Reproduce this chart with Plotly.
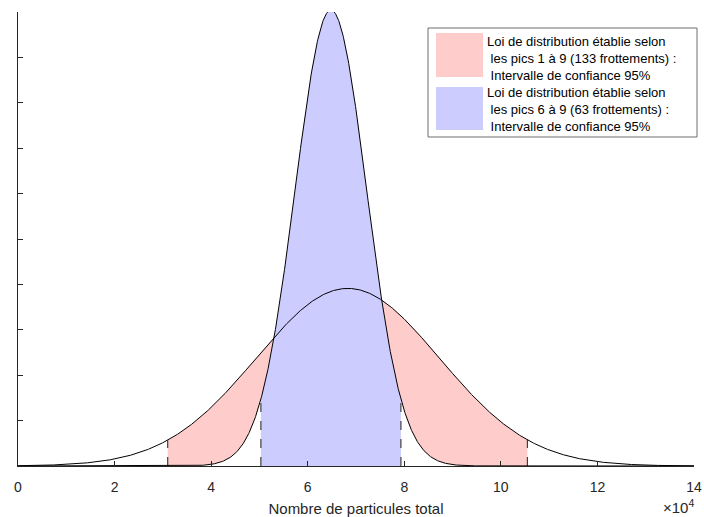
import numpy as np
import plotly.graph_objects as go

# lois normales (unités : nombre de particules)
moyenne_1_9 = 68300
ecart_1_9 = 19000
ic_1_9 = [31000, 105500]

moyenne_6_9 = 64800
ecart_6_9 = 7400
ic_6_9 = [50300, 79300]

x_ticks = [0, 20000, 40000, 60000, 80000, 100000, 120000, 140000]
x_ticklabels = ["0", "2", "4", "6", "8", "10", "12", "14"]
y_max = 5.367e-5

legende_1 = ["Loi de distribution établie selon", " les pics 1 à 9 (133 frottements) :", " Intervalle de confiance 95%"]
legende_2 = ["Loi de distribution établie selon", " les pics 6 à 9 (63 frottements) :", " Intervalle de confiance 95%"]

ROUGE = "#FFCCCC"
BLEU = "#CCCCFF"
AXE = "#262626"


def pdf(x, m, s):
    return np.exp(-0.5 * ((x - m) / s) ** 2) / (s * np.sqrt(2 * np.pi))


x = np.linspace(0, 140000, 1401)
x_r = np.linspace(ic_1_9[0], ic_1_9[1], 600)
x_b = np.linspace(ic_6_9[0], ic_6_9[1], 600)

fig = go.Figure()

# zone rouge sous la grande loi
fig.add_trace(go.Scatter(x=x_r, y=pdf(x_r, moyenne_1_9, ecart_1_9), fill="tozeroy",
                         fillcolor=ROUGE, mode="none"))
# blanc sous la loi étroite, puis bleu dans son intervalle
fig.add_trace(go.Scatter(x=x, y=pdf(x, moyenne_6_9, ecart_6_9), fill="tozeroy",
                         fillcolor="white", mode="none"))
fig.add_trace(go.Scatter(x=x_b, y=pdf(x_b, moyenne_6_9, ecart_6_9), fill="tozeroy",
                         fillcolor=BLEU, mode="none"))

# traits pointillés des bornes
for a in ic_1_9:
    fig.add_trace(go.Scatter(x=[a, a], y=[0, pdf(a, moyenne_1_9, ecart_1_9)], mode="lines",
                             line=dict(color="#404040", width=1.2, dash="dash")))
for a in ic_6_9:
    fig.add_trace(go.Scatter(x=[a, a], y=[0, pdf(a, moyenne_6_9, ecart_6_9)], mode="lines",
                             line=dict(color="#404040", width=1.2, dash="dash")))

# courbes
fig.add_trace(go.Scatter(x=x, y=pdf(x, moyenne_1_9, ecart_1_9), mode="lines",
                         line=dict(color="black", width=1)))
fig.add_trace(go.Scatter(x=x, y=pdf(x, moyenne_6_9, ecart_6_9), mode="lines",
                         line=dict(color="black", width=1)))

W, H = 704, 517
# zone de tracé en pixels
L, R, T, B = 18, 694, 12, 466


def px(v):
    return (v - L) / (R - L)


def py(v):
    return (B - v) / (B - T)


shapes = [
    dict(type="rect", xref="paper", yref="paper", x0=px(428), x1=px(697), y0=py(137), y1=py(28),
         line=dict(color="#6e6e6e", width=1), fillcolor="white", layer="above"),
    dict(type="rect", xref="paper", yref="paper", x0=px(436), x1=px(483), y0=py(77), y1=py(33),
         line=dict(width=0), fillcolor=ROUGE, layer="above"),
    dict(type="rect", xref="paper", yref="paper", x0=px(436), x1=px(483), y0=py(130), y1=py(87),
         line=dict(width=0), fillcolor=BLEU, layer="above"),
]

annotations = []
for i, t in enumerate(legende_1 + legende_2):
    annotations.append(dict(text=t.replace(" ", "&nbsp;", 1) if t.startswith(" ") else t,
                            xref="paper", yref="paper", x=px(485), y=py(41 + i * 17.2),
                            xanchor="left", yanchor="middle", showarrow=False,
                            font=dict(size=13, color="black")))
annotations.append(dict(text="×10<sup>4</sup>", xref="paper", yref="paper", x=px(696), y=py(507),
                        xanchor="right", yanchor="middle", showarrow=False,
                        font=dict(size=15, color=AXE)))

fig.update_layout(
    width=W, height=H,
    margin=dict(l=L, r=W - R, t=T, b=H - B, autoexpand=False),
    paper_bgcolor="white", plot_bgcolor="white",
    showlegend=False,
    font=dict(family="Liberation Sans, Arial, sans-serif", color=AXE),
    shapes=shapes, annotations=annotations,
    xaxis=dict(range=[0, 140000], tickvals=x_ticks, ticktext=x_ticklabels, ticks="inside",
               ticklen=5, tickcolor=AXE, showline=True, linecolor=AXE, linewidth=1.2,
               showgrid=False, zeroline=False, tickfont=dict(size=14), ticklabelstandoff=8,
               ticklabeloverflow="allow", automargin=False,
               title=dict(text="Nombre de particules total", font=dict(size=15), standoff=9)),
    yaxis=dict(range=[0, y_max], tickvals=[i * y_max / 10 for i in range(11)], ticks="inside",
               ticklen=5, tickcolor=AXE, showline=True, linecolor=AXE, linewidth=1.2,
               showgrid=False, zeroline=False, showticklabels=False, automargin=False),
)

# pas de marge autour de la figure dans la page, pas de barre d'outils
fig.write_html("out.html", config={"displayModeBar": False},
               post_script="document.body.style.margin='0';document.body.style.overflow='hidden';")
